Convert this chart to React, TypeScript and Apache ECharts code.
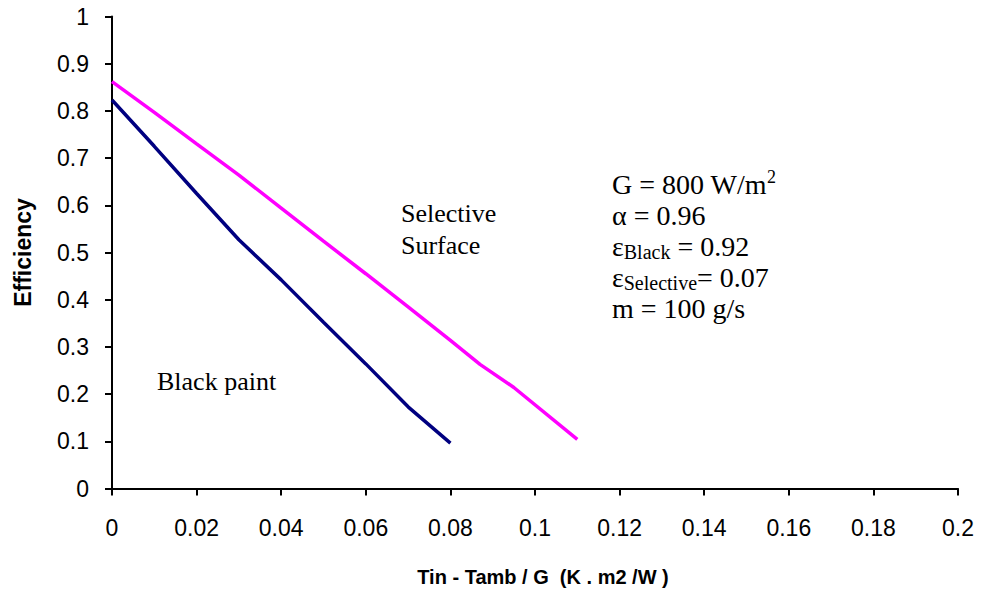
import React, { useEffect, useRef } from "react";
import * as echarts from "echarts";

const blackX = [0, 0.01, 0.02, 0.03, 0.04, 0.05, 0.06, 0.07, 0.08];
const blackY = [0.823, 0.725, 0.625, 0.527, 0.442, 0.352, 0.264, 0.173, 0.096];
const selX = [0, 0.01, 0.02, 0.03, 0.04, 0.05, 0.06, 0.07, 0.08, 0.087, 0.095, 0.11];
const selY = [0.862, 0.797, 0.73, 0.664, 0.594, 0.524, 0.455, 0.385, 0.314, 0.263, 0.214, 0.104];

const xTicks = [0, 0.02, 0.04, 0.06, 0.08, 0.1, 0.12, 0.14, 0.16, 0.18, 0.2];
const yTicks = [0, 0.1, 0.2, 0.3, 0.4, 0.5, 0.6, 0.7, 0.8, 0.9, 1];

const serif = "'Liberation Serif', 'Times New Roman', serif";
const sans = "'Liberation Sans', Arial, sans-serif";

export default function App() {
  const ref = useRef<HTMLDivElement>(null);
  useEffect(() => {
    if (!ref.current) return;
    const chart = echarts.init(ref.current, undefined, { renderer: "svg" });
    chart.setOption({
      animation: false,
      backgroundColor: "#ffffff",
      grid: {
        left: 112, right: 26, top: 16.5, bottom: 105.5,
        containLabel: false, outerBoundsMode: "none",
      },
      xAxis: {
        type: "value",
        min: xTicks[0],
        max: xTicks[xTicks.length - 1],
        interval: 0.02,
        name: "Tin - Tamb / G  (K . m2 /W )",
        nameLocation: "middle",
        nameGap: 78,
        nameTextStyle: {
          fontFamily: sans, fontWeight: "bold", fontSize: 20, color: "#000",
          padding: [0, 0, 0, 16],
        },
        axisLine: { show: true, lineStyle: { color: "#000", width: 2 } },
        axisTick: { show: true, inside: false, length: 7, lineStyle: { color: "#000", width: 2 } },
        axisLabel: {
          fontFamily: sans, fontSize: 23, color: "#000", margin: 28,
          formatter: (v: number) => String(parseFloat(v.toFixed(2))),
        },
        splitLine: { show: false },
      },
      yAxis: {
        type: "value",
        min: yTicks[0],
        max: yTicks[yTicks.length - 1],
        interval: 0.1,
        name: "Efficiency",
        nameLocation: "middle",
        nameRotate: 90,
        nameGap: 78,
        nameTextStyle: { fontFamily: sans, fontWeight: "bold", fontSize: 23, color: "#000" },
        axisLine: { show: true, lineStyle: { color: "#000", width: 2 } },
        axisTick: { show: true, inside: false, length: 7, lineStyle: { color: "#000", width: 2 } },
        axisLabel: {
          fontFamily: sans, fontSize: 23, color: "#000", margin: 23,
          formatter: (v: number) => String(parseFloat(v.toFixed(1))),
        },
        splitLine: { show: false },
      },
      series: [
        {
          type: "line",
          name: "Black paint",
          data: blackX.map((x, i) => [x, blackY[i]]),
          showSymbol: false,
          lineStyle: { color: "#000080", width: 3.5 },
        },
        {
          type: "line",
          name: "Selective Surface",
          data: selX.map((x, i) => [x, selY[i]]),
          showSymbol: false,
          lineStyle: { color: "#FF00FF", width: 3.5 },
        },
      ],
      graphic: [
        {
          type: "text", left: 401, top: 197,
          style: { text: "Selective\nSurface", font: `26px ${serif}`, fill: "#000", lineHeight: 32 },
        },
        {
          type: "text", left: 157, top: 365,
          style: { text: "Black paint", font: `26px ${serif}`, fill: "#000", lineHeight: 32 },
        },
        {
          type: "text", left: 612, top: 168,
          style: {
            text: [
              "{n|G = 800 W/m}{sup|2}",
              "{n|α = 0.96}",
              "{n|ε}{sub|Black}{n| = 0.92}",
              "{n|ε}{sub|Selective}{n|= 0.07}",
              "{n|m = 100 g/s}",
            ].join("\n"),
            fill: "#000",
            rich: {
              n: { fontFamily: serif, fontSize: 28, lineHeight: 31, color: "#000" },
              sub: { fontFamily: serif, fontSize: 20, lineHeight: 31, color: "#000", padding: [12, 0, 0, 0] },
              sup: { fontFamily: serif, fontSize: 18, lineHeight: 31, color: "#000", padding: [0, 0, 14, 0] },
            },
          },
        },
      ],
    });
    return () => chart.dispose();
  }, []);
  return <div ref={ref} style={{ width: 984, height: 594, position: "absolute", left: 0, top: 0 }} />;
}
